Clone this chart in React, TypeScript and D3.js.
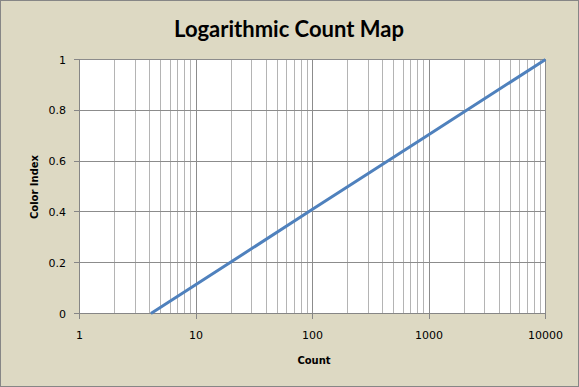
import React from "react";
import * as d3 from "d3";

const counts = [4.1, 10, 100, 1000, 10000];
const colorIndex = [0, 0.114, 0.41, 0.705, 1];
const xTicks = [1, 10, 100, 1000, 10000];
const yTicks = [0, 0.2, 0.4, 0.6, 0.8, 1];

export default function App() {
  const W = 579, H = 387;
  const x = d3.scaleLog().domain([1, 10000]).range([79.5, 545.5]);
  const y = d3.scaleLinear().domain([0, 1]).range([313.5, 59.5]);
  const minor: number[] = [];
  for (let d = 1; d < 10000; d *= 10) for (let k = 2; k <= 9; k++) minor.push(d * k);
  const pts = counts.map((c, i) => [c, colorIndex[i]] as [number, number]);
  const line = d3.line<[number, number]>().x(d => x(d[0])).y(d => y(d[1]));
  const tickFont = "DejaVu Sans, Verdana, sans-serif";
  return (
    <svg width={W} height={H} style={{ position: "absolute", left: 0, top: 0 }}>
      <rect x={0.5} y={0.5} width={W - 1} height={H - 1} fill="#DDD9C3" stroke="#868686" />
      <text x={289} y={37} textAnchor="middle" fontFamily="Lato, 'Open Sans', sans-serif" fontWeight="bold" fontSize={22} fill="#000">Logarithmic Count Map</text>
      <rect x={79.5} y={59.5} width={466} height={254} fill="#fff" />
      {minor.map(v => (
        <line key={"m" + v} x1={x(v)} x2={x(v)} y1={59.5} y2={313.5} stroke="#B4B4B4" strokeWidth={1} shapeRendering="crispEdges" />
      ))}
      {xTicks.map(v => (
        <line key={"M" + v} x1={x(v)} x2={x(v)} y1={59.5} y2={313.5} stroke="#8C8C8C" strokeWidth={1} shapeRendering="crispEdges" />
      ))}
      {yTicks.map(v => (
        <line key={"h" + v} x1={79.5} x2={545.5} y1={y(v)} y2={y(v)} stroke="#8C8C8C" strokeWidth={1} shapeRendering="crispEdges" />
      ))}
      <line x1={79.5} x2={79.5} y1={59.5} y2={313.5} stroke="#868686" shapeRendering="crispEdges" />
      <line x1={79.5} x2={545.5} y1={313.5} y2={313.5} stroke="#868686" shapeRendering="crispEdges" />
      {yTicks.map(v => (
        <g key={"yt" + v}>
          <line x1={74} x2={79.5} y1={y(v)} y2={y(v)} stroke="#868686" shapeRendering="crispEdges" />
          <text x={66} y={y(v) + 4} textAnchor="end" fontFamily={tickFont} fontSize={11} fill="#000">{v}</text>
        </g>
      ))}
      {xTicks.map(v => (
        <g key={"xt" + v}>
          <line x1={x(v)} x2={x(v)} y1={313.5} y2={319} stroke="#868686" shapeRendering="crispEdges" />
          <text x={x(v)} y={339} textAnchor="middle" fontFamily={tickFont} fontSize={11} fill="#000">{v}</text>
        </g>
      ))}
      <path d={line(pts) || ""} fill="none" stroke="#4F81BD" strokeWidth={3} />
      <text x={314} y={364} textAnchor="middle" fontFamily={tickFont} fontWeight="bold" fontSize={10} fill="#000">Count</text>
      <text transform={`translate(38,187) rotate(-90)`} textAnchor="middle" fontFamily={tickFont} fontWeight="bold" fontSize={10} fill="#000">Color Index</text>
    </svg>
  );
}
